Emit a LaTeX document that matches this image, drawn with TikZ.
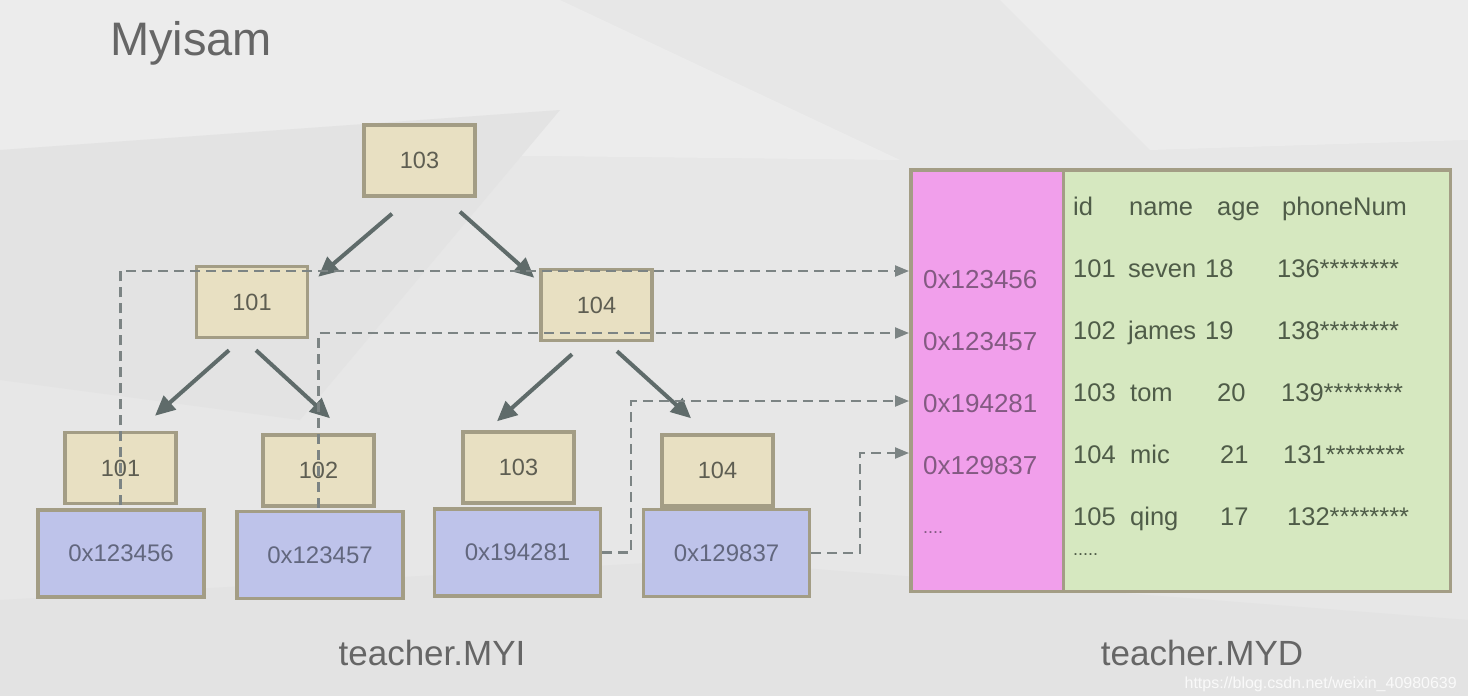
\documentclass[tikz,border=0pt]{standalone}
\usepackage{fontspec}
\setmainfont{Liberation Sans}
\usetikzlibrary{arrows.meta,calc}
\definecolor{bg}{HTML}{E7E7E7}
\definecolor{bglight}{HTML}{ECECEC}
\definecolor{bgdark}{HTML}{E3E3E3}
\definecolor{keyfill}{HTML}{E8E0C2}
\definecolor{boxline}{HTML}{A39D85}
\definecolor{keytext}{HTML}{5E5E52}
\definecolor{addrfill}{HTML}{BEC3EA}
\definecolor{addrtext}{HTML}{62677E}
\definecolor{pinkfill}{HTML}{F19FEB}
\definecolor{pinktext}{HTML}{835A82}
\definecolor{greenfill}{HTML}{D6E8C0}
\definecolor{greentext}{HTML}{4F5C48}
\definecolor{arrowcol}{HTML}{5F6B6A}
\definecolor{dashcol}{HTML}{7C8484}
\definecolor{titlecol}{HTML}{666666}
\begin{document}
\begin{tikzpicture}[x=1pt,y=-1pt,
  keybox/.style={draw=boxline, line width=3.5pt, fill=keyfill, minimum width=111pt, minimum height=71pt, inner sep=0pt, text=keytext, font=\fontsize{23.5}{24}\selectfont},
  addrbox/.style={draw=boxline, line width=3.5pt, fill=addrfill, minimum width=166pt, minimum height=87pt, inner sep=0pt, text=addrtext, font=\fontsize{24}{24}\selectfont},
  tree/.style={draw=arrowcol, line width=4pt, -{Triangle[length=20pt,width=18pt]}},
  ptrline/.style={draw=dashcol, line width=2.2pt, dash pattern=on 10pt off 6pt, -{Triangle[length=14pt,width=11pt]}},
  ptrtxt/.style={anchor=base west, inner sep=0pt, text=pinktext, font=\fontsize{26}{26}\selectfont},
  rowtxt/.style={anchor=base west, inner sep=0pt, text=greentext, font=\fontsize{25.5}{26}\selectfont},
  label/.style={inner sep=0pt, text=titlecol, font=\fontsize{35}{35}\selectfont}
]
\useasboundingbox (0,0) rectangle (1468,696);
\fill[bg] (0,0) rectangle (1468,696);
\fill[bglight] (0,0) -- (560,0) -- (900,160) -- (0,150) -- cycle;
\fill[bgdark] (0,150) -- (560,110) -- (300,420) -- (0,380) -- cycle;
\fill[bglight] (1000,0) -- (1468,0) -- (1468,140) -- (1150,150) -- cycle;
\fill[bgdark] (0,600) -- (700,560) -- (1468,620) -- (1468,696) -- (0,696) -- cycle;

% title
\node[inner sep=0pt, anchor=base west, text=titlecol, font=\fontsize{47}{47}\selectfont] (title) at (110,55) {Myisam};

% tree nodes
\node[keybox] (root) at (419.5,160.5) {103};
\node[keybox] (m101) at (252,302) {101};
\node[keybox] (m104) at (596.5,305) {104};

\node[addrbox] (b101) at (121,553.5) {0x123456};
\node[addrbox] (b102) at (320,555) {0x123457};
\node[addrbox] (b103) at (517.5,552.5) {0x194281};
\node[addrbox] (b104) at (726.5,553) {0x129837};

\node[keybox] (l101) at (120.5,468) {101};
\node[keybox] (l102) at (318.5,470.5) {102};
\node[keybox] (l103) at (518.5,467.5) {103};
\node[keybox] (l104) at (717.5,470.5) {104};

% tree arrows
\draw[tree] ($(root.south)+(-27.5,16)$) -- ($(m101.north east)+(9,12)$);
\draw[tree] ($(root.south)+(40.5,14)$) -- ($(m104.north west)+(-5,10)$);
\draw[tree] ($(m101.south)+(-23,11)$) -- ($(l101.north)+(34.5,-15)$);
\draw[tree] ($(m101.south)+(4,11)$) -- ($(l102.north)+(11.5,-15)$);
\draw[tree] ($(m104.south)+(-24.5,12)$) -- ($(l103.north)+(-21.5,-9)$);
\draw[tree] ($(m104.south)+(20.5,9)$) -- ($(l104.north)+(-26.5,-15)$);

% table
\node[draw=none, fill=pinkfill, minimum width=152pt, minimum height=421pt, anchor=north west, inner sep=0pt] (ptrcol) at (911,170) {};
\node[draw=none, fill=greenfill, minimum width=387pt, minimum height=421pt, anchor=north west, inner sep=0pt] (datacol) at (1063,170) {};
\draw[boxline, line width=3.5pt] (ptrcol.north west) rectangle (datacol.south east);
\draw[boxline, line width=3.5pt] (ptrcol.north east) -- (ptrcol.south east);

\coordinate (p1) at (909,271);
\coordinate (p2) at (909,333);
\coordinate (p3) at (909,401);
\coordinate (p4) at (909,453);

\node[ptrtxt] (a1) at (923,288) {0x123456};
\node[ptrtxt] (a2) at (923,350) {0x123457};
\node[ptrtxt] (a3) at (923,412) {0x194281};
\node[ptrtxt] (a4) at (923,474) {0x129837};
\node[ptrtxt, font=\fontsize{18}{18}\selectfont] (a5) at (923,533) {....};

% header
\node[rowtxt] (h1) at (1073,215) {id};
\node[rowtxt] (h2) at (1129,215) {name};
\node[rowtxt] (h3) at (1217,215) {age};
\node[rowtxt] (h4) at (1282,215) {phoneNum};
% rows
\node[rowtxt] (r1a) at (1073,277) {101};
\node[rowtxt] (r1b) at (1128,277) {seven};
\node[rowtxt] (r1c) at (1205,277) {18};
\node[rowtxt] (r1d) at (1277,277) {136********};
\node[rowtxt] (r2a) at (1073,339) {102};
\node[rowtxt] (r2b) at (1128,339) {james};
\node[rowtxt] (r2c) at (1205,339) {19};
\node[rowtxt] (r2d) at (1277,339) {138********};
\node[rowtxt] (r3a) at (1073,401) {103};
\node[rowtxt] (r3b) at (1130,401) {tom};
\node[rowtxt] (r3c) at (1217,401) {20};
\node[rowtxt] (r3d) at (1281,401) {139********};
\node[rowtxt] (r4a) at (1073,463) {104};
\node[rowtxt] (r4b) at (1130,463) {mic};
\node[rowtxt] (r4c) at (1220,463) {21};
\node[rowtxt] (r4d) at (1283,463) {131********};
\node[rowtxt] (r5a) at (1073,525) {105};
\node[rowtxt] (r5b) at (1130,525) {qing};
\node[rowtxt] (r5c) at (1220,525) {17};
\node[rowtxt] (r5d) at (1287,525) {132********};
\node[rowtxt, font=\fontsize{18}{18}\selectfont] (r6) at (1073,555) {.....};

% pointer dashed arrows
\draw[ptrline] (l101.south) |- (p1);
\draw[ptrline] (l102.south) |- (p2);
\draw[ptrline] (b103.east) -- ++(29,0) |- (p3);
\draw[ptrline] (b104.east) -- ++(49,0) |- (p4);

% file labels
\node[label] (myi) at (432,653) {teacher.MYI};
\node[label] (myd) at (1202,653) {teacher.MYD};
\node[inner sep=0pt, anchor=base east, text=white, opacity=0.8, font=\fontsize{16}{16}\selectfont] (wm) at (1457,688) {https://blog.csdn.net/weixin\_40980639};
\end{tikzpicture}
\end{document}
